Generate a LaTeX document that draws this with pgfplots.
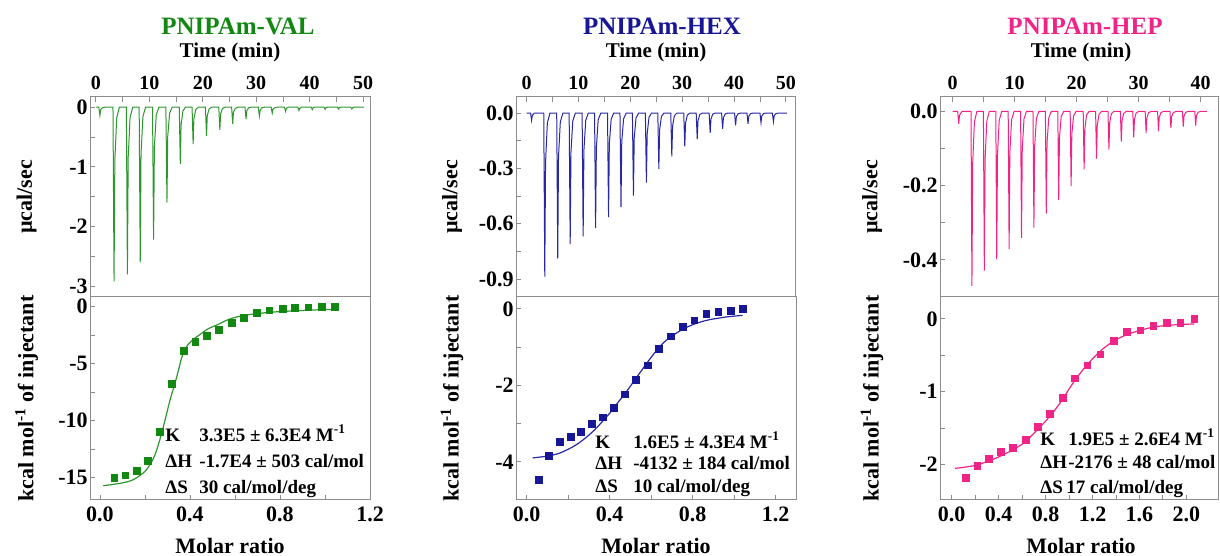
\documentclass[border=0pt]{standalone}
\usepackage{fontspec}
\setmainfont{Liberation Serif}
\usepackage{pgfplots}
\pgfplotsset{compat=1.18}

\definecolor{valg}{RGB}{18,135,18}
\definecolor{valgl}{RGB}{45,150,45}
\definecolor{hexb}{RGB}{22,22,150}
\definecolor{hexbl}{RGB}{40,40,165}
\definecolor{hepp}{RGB}{240,35,135}
\definecolor{frm}{RGB}{140,140,140}

\pgfplotsset{
  itc/.style={scale only axis, width=140pt, anchor=south west,
    tick align=inside, axis line style={frm, line width=0.5pt},
    tick style={frm, line width=0.4pt},
    major tick length=2.5pt, minor tick length=2.5pt,
    ytick pos=left, minor x tick num=1, minor y tick num=1,
    tick label style={font=\fontsize{11}{12}\selectfont\bfseries},
    yticklabel style={inner sep=1pt}},
  itctop/.style={itc, height=100pt, xtick pos=right, xticklabel pos=right,
    xticklabel style={font=\fontsize{10}{11}\selectfont\bfseries}},
  itcbot/.style={itc, height=101.5pt, xtick pos=left},
}

\begin{document}
\begin{tikzpicture}
\path[use as bounding box] (0,0) rectangle (610pt,278pt);

% ---------------- PNIPAm-VAL ----------------
\begin{axis}[itctop, at={(45pt,129.5pt)}, xmin=-1.1, xmax=51.3, ymin=-3.18, ymax=0.17,
  xtick={0,10,20,30,40,50}, xticklabels={0,10,20,30,40,50},
  ytick={-3,-2,-1,0}, yticklabels={-3,-2,-1,0}]
\addplot[valgl, line width=0.5pt] coordinates {
(0,0)(0.55,0)(0.75,-0.14)(0.9,-0.04)(1.25,-0.01)(1.75,0)
(3.2,0)(3.4,-2.92)(3.55,-0.88)(3.9,-0.18)(4.4,0)
(5.7,0)(5.9,-2.8)(6.05,-0.84)(6.4,-0.17)(6.9,0)
(8.1,0)(8.3,-2.6)(8.45,-0.78)(8.8,-0.16)(9.3,0)
(10.6,0)(10.8,-2.22)(10.95,-0.67)(11.3,-0.13)(11.8,0)
(13.1,0)(13.3,-1.6)(13.45,-0.48)(13.8,-0.1)(14.3,0)
(15.6,0)(15.8,-0.95)(15.95,-0.29)(16.3,-0.06)(16.8,0)
(18.0,0)(18.2,-0.62)(18.35,-0.19)(18.7,-0.04)(19.2,0)
(20.5,0)(20.7,-0.48)(20.85,-0.14)(21.2,-0.03)(21.7,0)
(23.0,0)(23.2,-0.38)(23.35,-0.11)(23.7,-0.02)(24.2,0)
(25.4,0)(25.6,-0.28)(25.75,-0.08)(26.1,-0.02)(26.6,0)
(27.9,0)(28.1,-0.2)(28.25,-0.06)(28.6,-0.01)(29.1,0)
(30.4,0)(30.6,-0.15)(30.75,-0.05)(31.1,-0.01)(31.6,0)
(32.8,0)(33.0,-0.1)(33.15,-0.03)(33.5,-0.01)(34.0,0)
(35.3,0)(35.5,-0.07)(35.65,-0.02)(36.0,0)
(37.8,0)(38.0,-0.055)(38.15,-0.02)(38.5,0)
(40.3,0)(40.5,-0.04)(40.65,-0.01)(41.0,0)
(42.7,0)(42.9,-0.035)(43.05,-0.01)(43.4,0)
(45.2,0)(45.4,-0.03)(45.55,-0.01)(45.9,0)
(47.7,0)(47.9,-0.03)(48.05,-0.01)(48.4,0)
(50.2,0)};
\end{axis}

\begin{axis}[itcbot, at={(45pt,28pt)}, xmin=-0.044, xmax=1.2, ymin=-16.95, ymax=0.85,
  xtick={0,0.4,0.8,1.2}, xticklabels={0.0,0.4,0.8,1.2},
  ytick={-15,-10,-5,0}, yticklabels={-15,-10,-5,0}]
\addplot[valgl, line width=0.6pt, smooth] coordinates {
(0.015,-15.7)(0.1,-15.45)(0.15,-15.15)(0.2,-14.45)(0.23,-13.6)(0.25,-12.7)
(0.27,-11.4)(0.29,-9.9)(0.31,-8.3)(0.333,-6.75)(0.35,-5.5)(0.363,-4.5)
(0.385,-3.5)(0.41,-2.95)(0.444,-2.45)(0.48,-1.95)(0.52,-1.6)(0.56,-1.22)
(0.593,-0.98)(0.63,-0.8)(0.667,-0.68)(0.74,-0.52)(0.8,-0.43)(0.89,-0.34)
(0.96,-0.28)(1.04,-0.23)};
\addplot[only marks, mark=square*, mark size=1.7pt, valg] coordinates {
(0.064,-15.0)(0.113,-14.8)(0.163,-14.4)(0.215,-13.5)(0.267,-11.0)(0.32,-6.75)
(0.372,-3.9)(0.424,-3.07)(0.477,-2.54)(0.53,-2.05)(0.588,-1.4)(0.641,-0.96)
(0.696,-0.56)(0.753,-0.32)(0.812,-0.2)(0.868,-0.12)(0.926,-0.06)(0.985,0)(1.044,0)};
\end{axis}

% ---------------- PNIPAm-HEX ----------------
\begin{axis}[itctop, at={(258pt,129.5pt)}, xmin=-2.05, xmax=51.95, ymin=-0.997, ymax=0.087,
  xtick={0,10,20,30,40,50}, xticklabels={0,10,20,30,40,50},
  ytick={-0.9,-0.6,-0.3,0}, yticklabels={-0.9,-0.6,-0.3,0.0}]
\addplot[hexbl, line width=0.5pt] coordinates {
(0,0)(0.76,0)(0.96,-0.04)(1.11,-0.012)(1.5,0)
(3.3,0)(3.5,-0.886)(3.65,-0.266)(4.0,-0.053)(4.5,0)
(5.8,0)(6.0,-0.787)(6.15,-0.236)(6.5,-0.047)(7.0,0)
(8.2,0)(8.4,-0.71)(8.55,-0.213)(8.9,-0.043)(9.4,0)
(10.7,0)(10.9,-0.669)(11.05,-0.2)(11.4,-0.04)(11.9,0)
(13.1,0)(13.3,-0.624)(13.45,-0.187)(13.8,-0.037)(14.3,0)
(15.6,0)(15.8,-0.564)(15.95,-0.169)(16.3,-0.034)(16.8,0)
(18.0,0)(18.2,-0.51)(18.35,-0.153)(18.7,-0.031)(19.2,0)
(20.4,0)(20.6,-0.448)(20.75,-0.134)(21.1,-0.027)(21.6,0)
(22.9,0)(23.1,-0.377)(23.25,-0.113)(23.6,-0.023)(24.1,0)
(25.3,0)(25.5,-0.302)(25.65,-0.091)(26.0,-0.018)(26.5,0)
(27.8,0)(28.0,-0.235)(28.15,-0.07)(28.5,-0.014)(29.0,0)
(30.3,0)(30.5,-0.181)(30.65,-0.054)(31.0,-0.011)(31.5,0)
(32.7,0)(32.9,-0.141)(33.05,-0.042)(33.4,-0.008)(33.9,0)
(35.2,0)(35.4,-0.108)(35.55,-0.032)(35.9,-0.006)(36.4,0)
(37.6,0)(37.8,-0.085)(37.95,-0.026)(38.3,-0.005)(38.8,0)
(40.1,0)(40.3,-0.067)(40.45,-0.02)(40.8,-0.004)(41.3,0)
(42.5,0)(42.7,-0.058)(42.85,-0.017)(43.2,-0.003)(43.7,0)
(45.0,0)(45.2,-0.052)(45.35,-0.016)(45.7,-0.003)(46.2,0)
(47.4,0)(47.6,-0.047)(47.75,-0.014)(48.1,-0.003)(48.6,0)
(50.2,0)};
\end{axis}

\begin{axis}[itcbot, at={(258pt,28pt)}, xmin=-0.051, xmax=1.298, ymin=-5.0, ymax=0.31,
  xtick={0,0.4,0.8,1.2}, xticklabels={0.0,0.4,0.8,1.2},
  ytick={-4,-2,0}, yticklabels={-4,-2,0}]
\addplot[hexbl, line width=0.6pt, smooth] coordinates {
(0.029,-3.9)(0.1,-3.85)(0.161,-3.77)(0.241,-3.55)(0.321,-3.2)(0.402,-2.72)
(0.44,-2.45)(0.482,-2.16)(0.52,-1.87)(0.562,-1.55)(0.6,-1.27)(0.643,-0.98)
(0.68,-0.79)(0.723,-0.63)(0.76,-0.51)(0.803,-0.41)(0.84,-0.34)(0.884,-0.28)
(0.93,-0.24)(0.964,-0.21)(1.041,-0.17)};
\addplot[only marks, mark=square*, mark size=1.7pt, hexb] coordinates {
(0.058,-4.47)(0.109,-3.84)(0.161,-3.48)(0.212,-3.35)(0.263,-3.22)(0.315,-3.01)
(0.366,-2.84)(0.421,-2.59)(0.474,-2.24)(0.528,-1.85)(0.583,-1.48)(0.638,-1.04)
(0.696,-0.72)(0.752,-0.47)(0.808,-0.30)(0.866,-0.13)(0.924,-0.09)(0.983,-0.06)(1.041,0.0)};
\end{axis}

% ---------------- PNIPAm-HEP ----------------
\begin{axis}[itctop, at={(470pt,129.5pt)}, width=139pt, xmin=-2.05, xmax=42.8, ymin=-0.50, ymax=0.039,
  xtick={0,10,20,30,40}, xticklabels={0,10,20,30,40},
  ytick={-0.4,-0.2,0}, yticklabels={-0.4,-0.2,0.0}]
\addplot[hepp, line width=0.5pt] coordinates {
(0,0)(0.8,0)(0.97,-0.033)(1.1,-0.01)(1.5,0)
(2.95,0)(3.1,-0.47)(3.22,-0.141)(3.5,-0.028)(3.9,0)
(4.95,0)(5.1,-0.429)(5.22,-0.129)(5.5,-0.026)(5.9,0)
(6.95,0)(7.1,-0.398)(7.22,-0.119)(7.5,-0.024)(7.9,0)
(8.95,0)(9.1,-0.371)(9.22,-0.111)(9.5,-0.022)(9.9,0)
(10.95,0)(11.1,-0.341)(11.22,-0.102)(11.5,-0.02)(11.9,0)
(12.95,0)(13.1,-0.313)(13.22,-0.094)(13.5,-0.019)(13.9,0)
(14.95,0)(15.1,-0.275)(15.22,-0.083)(15.5,-0.017)(15.9,0)
(16.95,0)(17.1,-0.239)(17.22,-0.072)(17.5,-0.014)(17.9,0)
(18.95,0)(19.1,-0.201)(19.22,-0.06)(19.5,-0.012)(19.9,0)
(21.05,0)(21.2,-0.156)(21.32,-0.047)(21.6,-0.009)(22.0,0)
(23.05,0)(23.2,-0.127)(23.32,-0.038)(23.6,-0.008)(24.0,0)
(25.05,0)(25.2,-0.103)(25.32,-0.031)(25.6,-0.006)(26.0,0)
(27.05,0)(27.2,-0.081)(27.32,-0.024)(27.6,-0.005)(28.0,0)
(29.05,0)(29.2,-0.07)(29.32,-0.021)(29.6,-0.004)(30.0,0)
(31.05,0)(31.2,-0.058)(31.32,-0.017)(31.6,-0.003)(32.0,0)
(33.05,0)(33.2,-0.053)(33.32,-0.016)(33.6,-0.003)(34.0,0)
(35.05,0)(35.2,-0.045)(35.32,-0.014)(35.6,-0.003)(36.0,0)
(37.05,0)(37.2,-0.041)(37.32,-0.012)(37.6,-0.002)(38.0,0)
(39.05,0)(39.2,-0.038)(39.32,-0.011)(39.6,-0.002)(40.0,0)
(41.0,0)};
\end{axis}

\begin{axis}[itcbot, at={(470pt,28pt)}, width=139pt, xmin=-0.1, xmax=2.27, ymin=-2.49, ymax=0.30,
  xtick={0,0.4,0.8,1.2,1.6,2.0}, xticklabels={0.0,0.4,0.8,1.2,1.6,2.0},
  ytick={-2,-1,0}, yticklabels={-2,-1,0}]
\addplot[hepp, line width=0.6pt, smooth] coordinates {
(0.028,-2.055)(0.213,-2.01)(0.411,-1.89)(0.61,-1.71)(0.809,-1.39)(0.922,-1.16)
(1.035,-0.88)(1.149,-0.64)(1.262,-0.45)(1.376,-0.31)(1.489,-0.22)(1.603,-0.16)
(1.716,-0.115)(1.858,-0.087)(2.068,-0.07)};
\addplot[only marks, mark=square*, mark size=1.7pt, hepp] coordinates {
(0.119,-2.19)(0.218,-2.02)(0.318,-1.93)(0.417,-1.83)(0.519,-1.77)(0.63,-1.66)
(0.732,-1.48)(0.837,-1.31)(0.945,-1.09)(1.052,-0.82)(1.157,-0.64)(1.268,-0.49)
(1.382,-0.30)(1.495,-0.18)(1.609,-0.16)(1.719,-0.10)(1.835,-0.06)(1.949,-0.055)(2.068,0.0)};
\end{axis}

% ---------------- titles and labels ----------------
\begin{scope}[every node/.style={inner sep=0pt}]
\node[anchor=base, text=valg, font=\fontsize{12.5}{14}\selectfont\bfseries] at (119pt,260.5pt) {PNIPAm-VAL};
\node[anchor=base, text=hexb, font=\fontsize{12.5}{14}\selectfont\bfseries] at (331pt,260.5pt) {PNIPAm-HEX};
\node[anchor=base, text=hepp, font=\fontsize{12.5}{14}\selectfont\bfseries] at (542.5pt,260.5pt) {PNIPAm-HEP};

\foreach \cx in {115pt,328pt,540.5pt} {
  \node[anchor=base, font=\fontsize{10.5}{12}\selectfont\bfseries] at (\cx,249pt) {Time (min)};
  \node[anchor=base, font=\fontsize{11}{12}\selectfont\bfseries] at (\cx,1pt) {Molar ratio};
}

\foreach \lx in {13.3pt,226pt,436pt} {
  \node[rotate=90, font=\fontsize{11}{12}\selectfont\bfseries] at (\lx,179.5pt) {µcal/sec};
  \node[rotate=90, font=\fontsize{11}{12}\selectfont\bfseries] at (\lx,78.7pt) {kcal mol\textsuperscript{-1} of injectant};
}

% fit results
\begin{scope}[every node/.append style={anchor=base west, font=\fontsize{9.5}{11}\selectfont\bfseries}]
\node at (82.5pt,57.2pt) {\makebox[17pt][l]{K}3.3E5 ± 6.3E4 M\textsuperscript{-1}};
\node at (82.5pt,44.2pt) {\makebox[17pt][l]{ΔH}-1.7E4 ± 503 cal/mol};
\node at (82.5pt,31.3pt) {\makebox[17pt][l]{ΔS}30 cal/mol/deg};

\node at (297.5pt,53.8pt) {\makebox[19pt][l]{K}1.6E5 ± 4.3E4 M\textsuperscript{-1}};
\node at (297.5pt,43pt) {\makebox[19pt][l]{ΔH}-4132 ± 184 cal/mol};
\node at (297.5pt,31.7pt) {\makebox[19pt][l]{ΔS}10 cal/mol/deg};

\node at (520pt,55.2pt) {\makebox[14pt][l]{K}1.9E5 ± 2.6E4 M\textsuperscript{-1}};
\node at (520pt,43.5pt) {\makebox[14pt][l]{ΔH}-2176 ± 48 cal/mol};
\node at (520pt,31.3pt) {\makebox[13pt][l]{ΔS}17 cal/mol/deg};
\end{scope}
\end{scope}
\end{tikzpicture}
\end{document}
